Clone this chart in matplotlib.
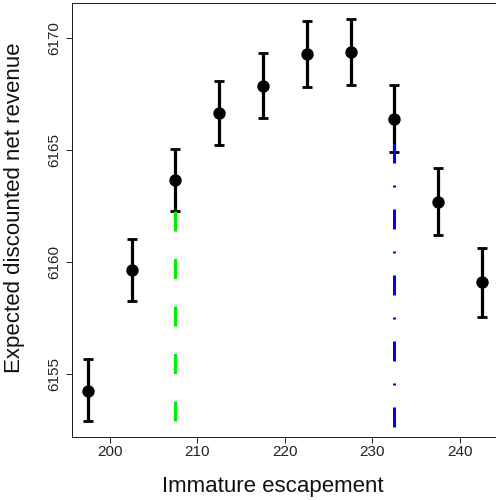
import numpy as np
import matplotlib
matplotlib.use("Agg")
import matplotlib.pyplot as plt

plt.rcParams['font.family'] = ['Liberation Sans', 'DejaVu Sans']
plt.rcParams['lines.scale_dashes'] = False

# escapement levels and estimated revenue with interval bounds
escapement = [197.5, 202.5, 207.5, 212.5, 217.5, 222.5, 227.5, 232.5, 237.5, 242.5]
revenue = [6154.25, 6159.65, 6163.66, 6166.65, 6167.87, 6169.30, 6169.37, 6166.39, 6162.70, 6159.10]
rev_low = [6152.90, 6158.28, 6162.27, 6165.23, 6166.45, 6167.84, 6167.90, 6164.92, 6161.20, 6157.56]
rev_high = [6155.66, 6161.03, 6165.05, 6168.09, 6169.33, 6170.76, 6170.86, 6167.91, 6164.22, 6160.64]

# reference lines: (x, top value)
green_line = (207.5, 6162.28)
blue_line = (232.5, 6165.32)

xticks = [200, 210, 220, 230, 240]
yticks = [6155, 6160, 6165, 6170]

W, H = 496, 500
fig = plt.figure(figsize=(W / 100, H / 100), dpi=100)
ax = fig.add_axes([72 / W, 1 - 437 / H, (497.7 - 72) / W, (437 - 3) / H])

rev = np.array(revenue)
lo = np.array(rev_low)
hi = np.array(rev_high)

px = 0.72  # points per pixel at dpi 100
ax.errorbar(escapement, rev, yerr=[rev - lo, hi - rev], fmt='o', color='black',
            ms=11 * px, elinewidth=3.2 * px, capsize=4.8 * px, capthick=2.8 * px, zorder=2)

# R-style 4% padding
xr = max(escapement) - min(escapement)
ax.set_xlim(min(escapement) - 0.04 * xr, max(escapement) + 0.04 * xr)
yr = hi.max() - lo.min()
ymin, ymax = lo.min() - 0.04 * yr, hi.max() + 0.04 * yr
ax.set_ylim(ymin, ymax)

ax.plot([green_line[0], green_line[0]], [green_line[1], ymin], color='#00ee00',
        lw=3 * px, linestyle=(0, (20 * px, 27.5 * px)), dash_capstyle='butt', zorder=3)
ax.plot([blue_line[0], blue_line[0]], [blue_line[1], ymin], color='#0000ff',
        lw=3 * px, linestyle=(0, (20 * px, 22 * px, 2 * px, 22 * px)),
        dash_capstyle='butt', zorder=3)

ax.set_xticks(xticks)
ax.set_yticks(yticks)
ax.tick_params(direction='out', length=6 * px, width=1 * px, labelsize=11,
               colors='#222222', labelcolor='#222222')
ax.tick_params(axis='x', pad=1.5)
ax.tick_params(axis='y', pad=3.5, labelrotation=90)
for lab in ax.get_yticklabels():
    lab.set_va('center')
for sp in ax.spines.values():
    sp.set_linewidth(1 * px)
    sp.set_color('#222222')

fig.text(162 / W, 1 - 491.7 / H, "Immature escapement", ha='left', va='baseline',
         fontsize=16, color='#111111')
fig.text(15 / W, 1 - 208 / H, "Expected discounted net revenue", ha='center',
         va='center', rotation=90, fontsize=16, color='#111111')

fig.savefig("out.png", dpi=100)
